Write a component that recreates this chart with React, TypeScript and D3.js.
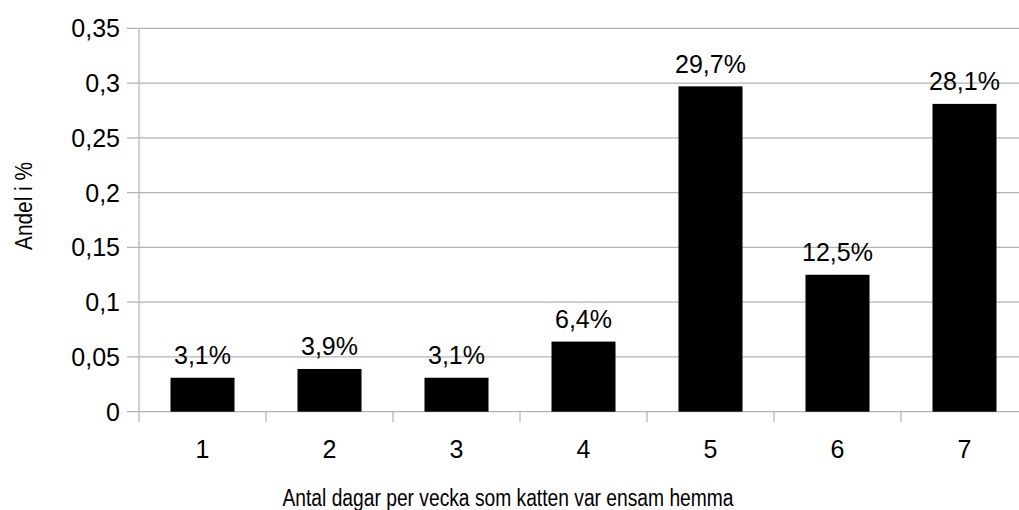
import React from "react";
import * as d3 from "d3";

const categories = ["1", "2", "3", "4", "5", "6", "7"];
const values = [0.031, 0.039, 0.031, 0.064, 0.297, 0.125, 0.281];
const valueLabels = ["3,1%", "3,9%", "3,1%", "6,4%", "29,7%", "12,5%", "28,1%"];
const yTicks = [0, 0.05, 0.1, 0.15, 0.2, 0.25, 0.3, 0.35];
const yTickLabels = ["0", "0,05", "0,1", "0,15", "0,2", "0,25", "0,3", "0,35"];
const xTitle = "Antal dagar per vecka som katten var ensam hemma";
const yTitle = "Andel i %";

const W = 1019;
const H = 510;
const left = 139;
const top = 28.3;
const bottom = 411.7;
const catW = 127;
const FONT = "'Liberation Sans', Arial, sans-serif";
const GRID = "#b3b3b3";

export default function App() {
  const x = d3
    .scaleBand<string>()
    .domain(categories)
    .range([left, left + catW * categories.length])
    .padding(0);
  const y = d3.scaleLinear().domain([0, 0.35]).range([bottom, top]);
  const bw = x.bandwidth();
  const barW = bw * 0.504;

  return (
    <svg
      width={W}
      height={H}
      style={{ position: "absolute", left: 0, top: 0, background: "#fff" }}
      fontFamily={FONT}
    >
      {yTicks.map((t, i) => (
        <g key={"g" + i}>
          <line x1={127} x2={W} y1={y(t)} y2={y(t)} stroke={GRID} strokeWidth={1.2} />
          <text x={120} y={y(t)} dy="0.36em" textAnchor="end" fontSize={25} fill="#000">
            {yTickLabels[i]}
          </text>
        </g>
      ))}
      <line x1={left} x2={left} y1={top} y2={bottom + 10.5} stroke={GRID} strokeWidth={1.2} />
      {categories.map((c, i) => (
        <line
          key={"t" + i}
          x1={(x(c) as number) + bw}
          x2={(x(c) as number) + bw}
          y1={bottom}
          y2={bottom + 10.5}
          stroke={GRID}
          strokeWidth={1.2}
        />
      ))}
      {categories.map((c, i) => {
        const cx = (x(c) as number) + bw / 2;
        return (
          <g key={"b" + i}>
            <rect x={cx - barW / 2} y={y(values[i])} width={barW} height={bottom - y(values[i])} fill="#000" />
            <text x={cx} y={y(values[i]) - 13.5} textAnchor="middle" fontSize={25} fill="#000">
              {valueLabels[i]}
            </text>
            <text x={cx} y={458} textAnchor="middle" fontSize={25} fill="#000">
              {c}
            </text>
          </g>
        );
      })}
      <text
        x={508}
        y={506}
        textAnchor="middle"
        fontSize={23}
        textLength={451}
        lengthAdjust="spacingAndGlyphs"
        fill="#000"
      >
        {xTitle}
      </text>
      <text
        transform={`translate(32,206) rotate(-90)`}
        textAnchor="middle"
        fontSize={23}
        textLength={88}
        lengthAdjust="spacingAndGlyphs"
        fill="#000"
      >
        {yTitle}
      </text>
    </svg>
  );
}
